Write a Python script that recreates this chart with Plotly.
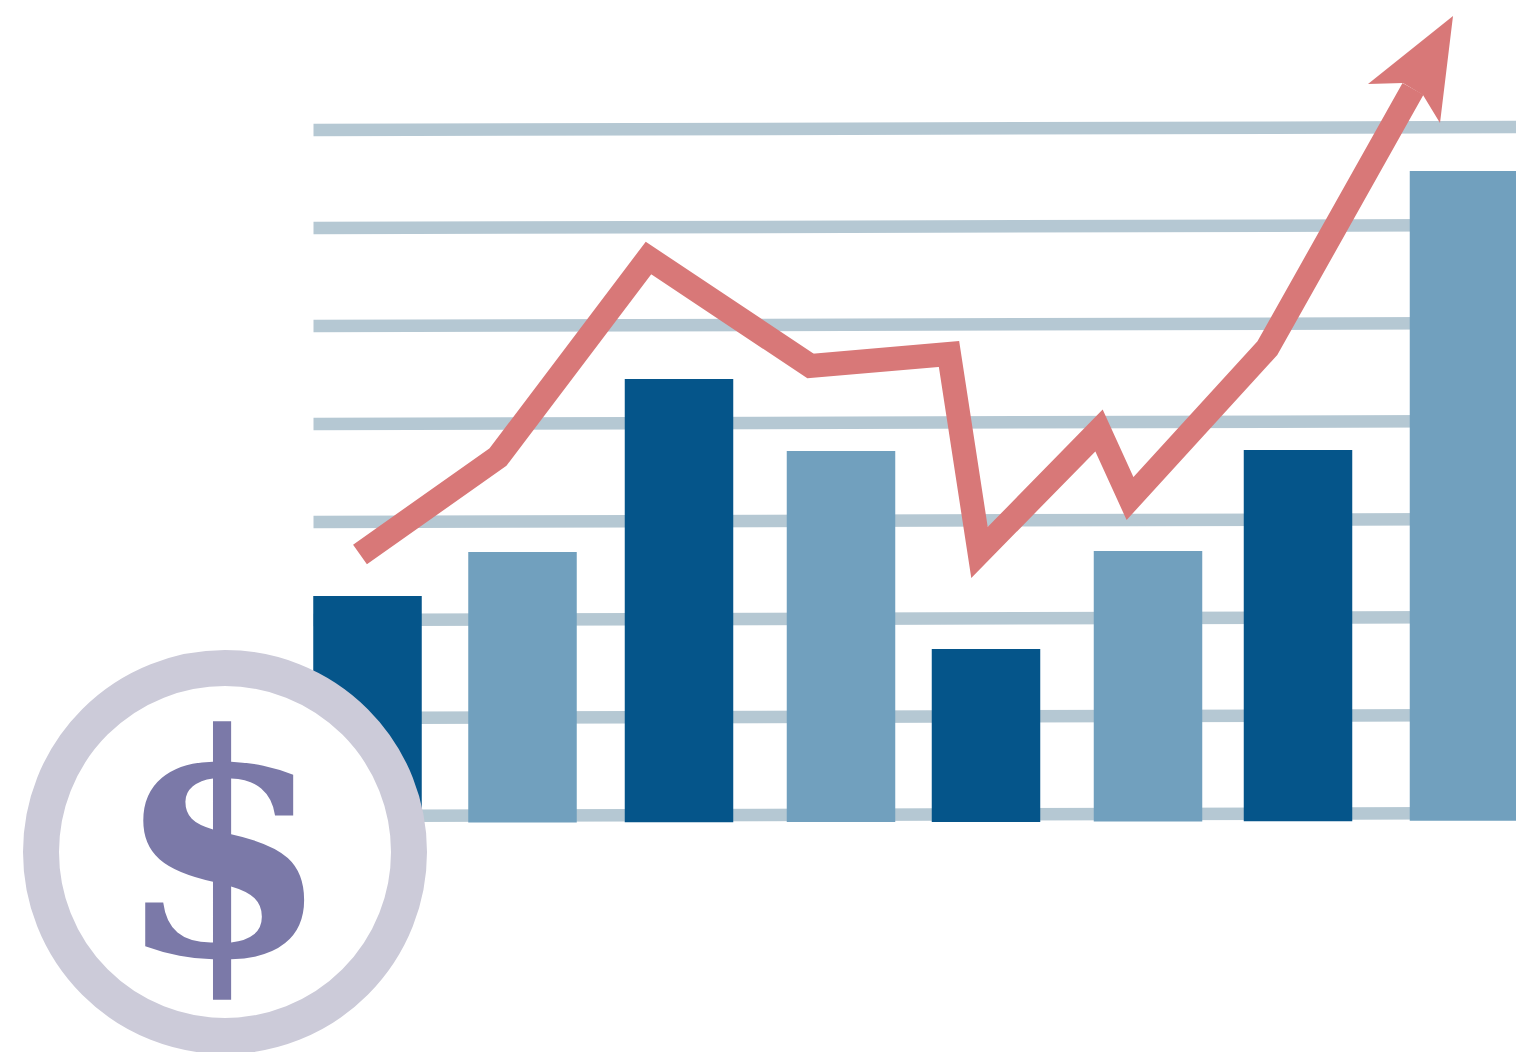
import plotly.graph_objects as go

# Column chart with a rising trend arrow and a dollar badge.
bar_x = [367.5, 522.5, 679, 841, 986, 1148, 1298, 1464]
bar_width = 108.5
bar_top = [2.306, 2.755, 4.520, 3.786, 1.765, 2.765, 3.796, 6.643]
bar_base = [-0.004, -0.004, -0.003, -0.001, 0.0, 0.004, 0.008, 0.012]
bar_colors = ["#05558a", "#71a0be", "#05558a", "#71a0be",
              "#05558a", "#71a0be", "#05558a", "#71a0be"]

grid_x = [313.5, 1516]
grid_left = [0.061, 1.061, 2.061, 3.061, 4.061, 5.061, 6.061, 7.061]
grid_rise = 0.03

trend_x = [360, 498, 648.5, 810.5, 949, 979.5, 1099, 1130, 1267.5, 1413]
trend_y = [2.730, 3.724, 5.755, 4.653, 4.776, 2.750, 3.995, 3.301, 4.837, 7.480]

head_x = [1368, 1453, 1440, 1423, 1403]
head_y = [7.531, 8.224, 7.133, 7.418, 7.541]

badge_center_x = 225
badge_center_y = -0.306
badge_radius_x = 184
badge_radius_y = 184 / 98
symbol = ["$"]

GRID = "#b5c8d3"
TREND = "#d87878"
RING = "#cccbd9"
INK = "#7b79a8"

fig = go.Figure()

fig.add_trace(go.Bar(
    x=bar_x,
    y=[t - b for t, b in zip(bar_top, bar_base)],
    base=bar_base,
    width=bar_width,
    marker=dict(color=bar_colors, line=dict(width=0)),
    hoverinfo="skip",
))

fig.add_trace(go.Scatter(
    x=trend_x, y=trend_y, mode="lines",
    line=dict(color=TREND, width=24, simplify=False),
    hoverinfo="skip",
))

fig.add_trace(go.Scatter(
    x=head_x + head_x[:1], y=head_y + head_y[:1], mode="lines",
    fill="toself", fillcolor=TREND, line=dict(width=0),
    hoverinfo="skip",
))

# Ruled lines sit beneath the columns, rising very slightly to the right.
for level in grid_left:
    fig.add_shape(
        type="line", layer="below",
        x0=grid_x[0], x1=grid_x[1], y0=level, y1=level + grid_rise,
        line=dict(color=GRID, width=12.5),
    )

# Round badge over the first column.
fig.add_shape(
    type="circle", layer="above",
    x0=badge_center_x - badge_radius_x, x1=badge_center_x + badge_radius_x,
    y0=badge_center_y - badge_radius_y, y1=badge_center_y + badge_radius_y,
    fillcolor="white", line=dict(color=RING, width=36),
)

fig.add_annotation(
    x=badge_center_x - 2.5, y=badge_center_y + 0.046, text=symbol[0], showarrow=False,
    xanchor="center", yanchor="middle",
    font=dict(family="DejaVu Serif", size=307, color=INK, weight="bold"),
)

fig.update_layout(
    width=1516, height=1052,
    margin=dict(l=0, r=0, t=0, b=0),
    paper_bgcolor="white", plot_bgcolor="white",
    showlegend=False,
    xaxis=dict(visible=False, range=[0, 1516], fixedrange=True),
    yaxis=dict(visible=False, range=[-2.3469, 8.3878], fixedrange=True),
)

# Sharp mitred corners on the trend line.
sharp_joins = """
document.querySelectorAll('.scatterlayer .trace, .scatterlayer .js-line').forEach(function (el) {
  el.style.strokeMiterlimit = '12';
  el.style.strokeLinejoin = 'miter';
});
"""

fig.write_html("out.html", post_script=sharp_joins,
               config={"displayModeBar": False})
